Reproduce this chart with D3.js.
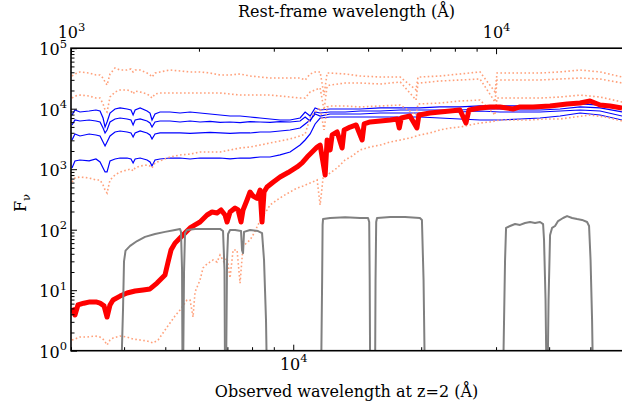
<!DOCTYPE html>
<html>
<head>
<meta charset="utf-8">
<script src="https://cdn.jsdelivr.net/npm/d3@7"></script>
<style>
  body { margin: 0; background: #fff; }
  text { font-family: "DejaVu Serif", serif; fill: #000; }
</style>
</head>
<body>
<div id="wrapper"></div>
<script>
// observed wavelength (A) grid shared by the blue model spectra
const blueWave = [3016, 3065, 3149, 3310, 3434, 3511, 3569, 3608, 3647, 3706, 3808, 3913, 4065, 4152, 4200, 4246, 4363, 4530, 4603, 4653, 4729, 4859, 5129, 5415, 5717, 6035, 6372, 6726, 7101, 7497, 7914, 8354, 8819, 9311, 9830, 10378, 10665, 10958, 11258, 11568, 12212, 13245, 14368, 16024, 17859, 19862, 22138, 24674, 27497, 30654, 34163, 38075, 42437, 47293, 52706, 59382]
const blueFlux1 = [7870, 9520, 8820, 9170, 9520, 9170, 7020, 4980, 6030, 8490, 9890, 10300, 9890, 9520, 7870, 9520, 10300, 9170, 8490, 6500, 8170, 8820, 8820, 8490, 8820, 8490, 8170, 7870, 7570, 7570, 7290, 7020, 6760, 6500, 6500, 7020, 8820, 7570, 10300, 9520, 9890, 9890, 9890, 10300, 10300, 10300, 10700, 10700, 11100, 11100, 11100, 11100, 11100, 12000, 11500, 10300]
const blueFlux2 = [5380, 6500, 6260, 6500, 6260, 6030, 4800, 3970, 4450, 6030, 6760, 7020, 6760, 6500, 5380, 6500, 6760, 6260, 5800, 4980, 6030, 6260, 6260, 6030, 6260, 6030, 6150, 5950, 6030, 5900, 6100, 6030, 5950, 6100, 6030, 6260, 7290, 6260, 8820, 8490, 8820, 8820, 9170, 9170, 9520, 9520, 9520, 9520, 9890, 9890, 9520, 9520, 9890, 10700, 10300, 8820]
const blueFlux3 = [3040, 3820, 3540, 3820, 3680, 3540, 2820, 2420, 2820, 3540, 4120, 4280, 4120, 3970, 3410, 3970, 4280, 3970, 3680, 3160, 3820, 3970, 3970, 3970, 3900, 3970, 4050, 3970, 3900, 3970, 3970, 4120, 4120, 4280, 4450, 4800, 5590, 6500, 8170, 7570, 8170, 8170, 8170, 8490, 8490, 8490, 8820, 8820, 9170, 8820, 8820, 8820, 9170, 9520, 9170, 7570]
const blueFlux4 = [1050, 1370, 1420, 1370, 1475, 1320, 1050, 900, 900, 1370, 1475, 1530, 1530, 1475, 1270, 1475, 1530, 1420, 1320, 1130, 1420, 1475, 1530, 1530, 1475, 1530, 1530, 1530, 1480, 1530, 1530, 1590, 1590, 1720, 1920, 2510, 3040, 3820, 5590, 7020, 7290, 7290, 7290, 7290, 7290, 7290, 7020, 6760, 6500, 6500, 6760, 7020, 7570, 8490, 7870, 6500]

// observed wavelength grid shared by the salmon (dotted) spectra
const salmonWave = [3016, 3065, 3149, 3310, 3434, 3511, 3569, 3608, 3647, 3706, 3808, 3913, 4065, 4152, 4200, 4246, 4363, 4530, 4603, 4653, 4729, 4859, 5129, 5415, 5717, 6035, 6372, 6726, 7101, 7497, 7914, 8354, 8819, 9311, 9830, 10378, 10665, 10958, 11258, 11568, 11815, 12015, 12212, 13245, 14368, 16024, 17859, 19447, 19659, 19862, 22138, 24674, 27497, 29838, 30163, 30654, 34163, 38075, 42437, 47293, 52706, 59382]
const salmonFlux1 = [34700, 37500, 40500, 38900, 36100, 36100, 32100, 27600, 24600, 37500, 47100, 43600, 43600, 45400, 40500, 43600, 43600, 38900, 36100, 33400, 38900, 40500, 43600, 42100, 40500, 40500, 38900, 36100, 36100, 37500, 34700, 33400, 32100, 32100, 32100, 32100, 29800, 37500, 40500, 40500, 16800, 38900, 38900, 37500, 34700, 33400, 33400, 20400, 33400, 33400, 34700, 37500, 40500, 18900, 38900, 38900, 38900, 38900, 40500, 43600, 40500, 33400]
const salmonFlux2 = [15000, 16200, 16800, 16200, 15000, 15000, 12000, 9520, 8820, 15600, 18900, 20400, 20400, 19600, 17500, 19600, 18900, 17500, 16200, 15000, 17500, 18200, 18200, 18200, 18200, 18200, 18200, 18200, 17500, 16800, 16800, 16800, 16800, 16200, 15600, 15000, 15000, 18900, 20400, 22000, 9520, 23700, 24600, 26600, 26600, 25600, 27600, 13900, 26600, 26600, 28700, 29800, 31000, 12900, 29800, 29800, 29800, 29800, 31000, 32100, 31000, 26600]
const salmonFlux3 = [614, 716, 743, 716, 663, 663, 548, 453, 404, 663, 802, 899, 970, 1008, 934, 1050, 1130, 1170, 1130, 1050, 1270, 1370, 1590, 1720, 1780, 1920, 1920, 1920, 2080, 2240, 2330, 2510, 2710, 2930, 3160, 3540, 3820, 7020, 8820, 10300, 4450, 10700, 11100, 11100, 10700, 11100, 11500, 7870, 12000, 12000, 12400, 13400, 13900, 7870, 15000, 15000, 15000, 15000, 15600, 16800, 15600, 12900]

// faintest salmon spectrum: [observed wavelength, flux]
const salmonLow = [[3016, 1.5], [3149, 1.68], [3269, 1.68], [3417, 1.75], [3511, 1.68], [3588, 1.5], [3647, 1.24], [3706, 1.5], [3767, 1.62], [3913, 1.75], [4065, 1.68], [4200, 1.56], [4363, 1.5], [4530, 1.45], [4678, 1.34], [4807, 1.5], [4938, 1.96], [5047, 2.46], [5129, 2.87], [5270, 3.75], [5415, 4.71], [5624, 6.89], [5717, 6.89], [5811, 3.61], [5874, 9.33], [6035, 14.7], [6134, 23.3], [6269, 27.1], [6476, 31.6], [6618, 29.2], [6726, 38.2], [6873, 29.2], [6987, 34.1], [7101, 15.9], [7218, 46.2], [7375, 46.2], [7497, 13.1], [7619, 53.8], [7914, 67.6], [8043, 81.7], [8263, 120], [8490, 175], [8676, 212], [8819, 256], [9158, 310], [9464, 361], [9830, 420], [10210, 489], [10547, 528], [10958, 591], [11381, 663], [11568, 256], [11752, 716], [12212, 865], [12680, 1050], [13245, 1420], [13751, 1653], [14368, 2080], [15172, 2330], [16024, 2510], [16917, 2820], [17859, 3040], [18816, 3280], [19862, 3680], [20970, 3970], [22138, 4450], [23372, 4800], [24674, 4980], [26048, 5380], [27497, 5800], [29028, 6030], [30654, 6500], [33257, 6500], [36073, 6500], [39127, 6760], [42437, 6760], [46037, 7290], [49928, 7870], [54167, 7290], [59382, 6260]]

// best-fit spectrum (thick red): [observed wavelength, flux]
const bestFit = [[3016, 5.1], [3065, 3.9], [3115, 5.7], [3216, 6.1], [3323, 6.4], [3434, 6.4], [3511, 6.1], [3588, 5.5], [3647, 3.6], [3706, 5.7], [3767, 6.9], [3913, 8.0], [4065, 9.0], [4246, 9.7], [4434, 10.1], [4603, 10.5], [4780, 13.1], [4859, 14.7], [4992, 17.8], [5074, 29], [5157, 46], [5270, 60], [5415, 73], [5594, 92], [5717, 107], [5874, 120], [6035, 134], [6269, 175], [6441, 196], [6618, 189], [6763, 212], [6911, 175], [6987, 134], [7101, 196], [7297, 228], [7417, 212], [7536, 134], [7619, 212], [7786, 310], [7914, 420], [8043, 360], [8219, 330], [8354, 453], [8445, 134], [8536, 420], [8676, 508], [8963, 610], [9311, 743], [9725, 880], [10210, 1090], [10491, 1270], [10781, 1590], [11077, 1920], [11381, 2330], [11568, 2510], [11886, 800], [12015, 3040], [12212, 2080], [12346, 3680], [12684, 4120], [13032, 2240], [13174, 4450], [13611, 4980], [14060, 5380], [14525, 3040], [14683, 5590], [15172, 6030], [16024, 6260], [16917, 6500], [17571, 6750], [17762, 4800], [17956, 7020], [18816, 7570], [19543, 4800], [19755, 7870], [20970, 8490], [22138, 8820], [23372, 9170], [24674, 9520], [25489, 5800], [25907, 9520], [27497, 10300], [29028, 10700], [30654, 10700], [32891, 9890], [34163, 10700], [36664, 10700], [40200, 11100], [44077, 12000], [47293, 12400], [49928, 13400], [52706, 11500], [55642, 11100], [59382, 10300]]

// filter transmission curves, scaled: [observed wavelength, value]
const filt1 = [[3933, 0.3], [3977, 5], [3998, 30], [4031, 45], [4132, 54], [4292, 65], [4480, 76], [4729, 85], [4992, 92], [5270, 99], [5415, 103], [5444, 92], [5475, 21.6], [5490, 0.3]]
const filt2 = [[5504, 0.3], [5534, 20], [5564, 88], [5624, 99], [5874, 103], [6372, 103], [6726, 103], [6836, 95], [6891, 21.6], [6911, 0.3]]
const filt3 = [[6947, 0.3], [6987, 31.6], [7025, 85], [7101, 99], [7297, 99], [7536, 95], [7577, 46], [7619, 41], [7660, 92], [7914, 99], [8263, 95], [8445, 88], [8536, 31.6], [8628, 3.2], [8676, 0.3]]
const filt4 = [[11624, 0.3], [11694, 14.7], [11724, 120], [11752, 150], [12212, 156], [13245, 160], [14368, 156], [14996, 156], [15090, 134], [15131, 14.7], [15172, 0.3]]
const filt5 = [[15575, 0.3], [15617, 14.7], [15673, 134], [15744, 156], [16917, 162], [18326, 162], [19862, 156], [20079, 145], [20257, 14.7], [20408, 0.3]]
const filt6 = [[31156, 0.3], [31500, 31.6], [31671, 107], [32365, 115], [33257, 124], [34163, 120], [35100, 129], [36073, 134], [37055, 129], [38075, 134], [38706, 124], [38906, 67.6], [39226, 6.9], [39445, 0.3]]
const filt7 = [[39654, 0.3], [39870, 6.9], [40200, 81.7], [40635, 107], [41300, 115], [41979, 139], [43130, 156], [44077, 168], [45296, 156], [46530, 150], [47803, 145], [49122, 134], [49654, 115], [50059, 31.6], [50471, 3.2], [50745, 0.3]]

// tick values
const yMajorTicks = [1, 10, 100, 1000, 10000, 100000]
const yMinorTicks = [2, 3, 4, 5, 6, 7, 8, 9].flatMap(m => [1, 10, 100, 1000, 10000].map(p => m * p))
const obsMajorTicks = [10000]
const obsMinorTicks = [3000, 4000, 5000, 6000, 7000, 8000, 9000, 20000, 30000, 40000, 50000, 60000]
const restMajorTicks = [1000, 10000]
const restMinorTicks = [2000, 3000, 4000, 5000, 6000, 7000, 8000, 9000, 20000]

function drawChart() {
  let dimensions = {
    width: 622,
    height: 408,
    margin: { top: 48.2, left: 71 },
  }
  dimensions.boundedWidth = 553
  dimensions.boundedHeight = 302.5

  const wrapper = d3.select("#wrapper")
    .append("svg")
      .attr("width", dimensions.width)
      .attr("height", dimensions.height)

  const bounds = wrapper.append("g")
      .attr("transform", `translate(${dimensions.margin.left}, ${dimensions.margin.top})`)

  bounds.append("defs").append("clipPath")
      .attr("id", "plot-clip")
    .append("rect")
      .attr("width", dimensions.boundedWidth)
      .attr("height", dimensions.boundedHeight)

  // scales
  const xScale = d3.scaleLog()
    .domain([3000, 60000])
    .range([0, dimensions.boundedWidth])

  const restScale = d3.scaleLog()
    .domain([1000, 20000])
    .range([0, dimensions.boundedWidth])

  const yScale = d3.scaleLog()
    .domain([1, 1e5])
    .range([dimensions.boundedHeight, 0])

  const lineGenerator = d3.line()
    .x(d => xScale(d[0]))
    .y(d => yScale(d[1]))

  const plot = bounds.append("g")
      .attr("clip-path", "url(#plot-clip)")

  // blue spectra
  ;[blueFlux1, blueFlux2, blueFlux3, blueFlux4].forEach(flux => {
    plot.append("path")
        .attr("d", lineGenerator(d3.zip(blueWave, flux)))
        .attr("fill", "none")
        .attr("stroke", "#0000ff")
        .attr("stroke-width", 1.2)
  })

  // salmon dotted spectra
  const salmonSeries = [
    d3.zip(salmonWave, salmonFlux1),
    d3.zip(salmonWave, salmonFlux2),
    d3.zip(salmonWave, salmonFlux3),
    salmonLow,
  ]
  salmonSeries.forEach(pts => {
    plot.append("path")
        .attr("d", lineGenerator(pts))
        .attr("fill", "none")
        .attr("stroke", "#ffa07a")
        .attr("stroke-width", 1.6)
        .attr("stroke-dasharray", "1.6,2.4")
  })

  // best fit
  plot.append("path")
      .attr("d", lineGenerator(bestFit))
      .attr("fill", "none")
      .attr("stroke", "#ff0000")
      .attr("stroke-width", 5)
      .attr("stroke-linejoin", "round")

  // filter curves
  ;[filt1, filt2, filt3, filt4, filt5, filt6, filt7].forEach(pts => {
    plot.append("path")
        .attr("d", lineGenerator(pts))
        .attr("fill", "none")
        .attr("stroke", "#808080")
        .attr("stroke-width", 2)
        .attr("stroke-linejoin", "round")
  })

  // axes
  const powerLabel = sel => sel.selectAll(".tick text").each(function(d) {
    const t = d3.select(this).text("")
    t.append("tspan").text("10")
    t.append("tspan")
        .attr("dy", -7.5)
        .attr("font-size", 11.5)
        .text(Math.round(Math.log10(d)))
  })

  const styleAxis = sel => {
    sel.select(".domain").remove()
    sel.selectAll(".tick line").attr("stroke", "#000").attr("stroke-width", 1)
    sel.selectAll(".tick text").attr("font-size", 16).attr("font-family", "DejaVu Serif")
  }

  // y
  bounds.append("g")
    .call(d3.axisLeft(yScale).tickValues(yMinorTicks).tickSize(-3.5).tickFormat(""))
    .call(styleAxis)
  const yAxis = bounds.append("g")
    .call(d3.axisLeft(yScale).tickValues(yMajorTicks).tickSize(-6).tickPadding(4))
    .call(styleAxis)
  yAxis.selectAll(".tick text").attr("dy", "0.42em")
  yAxis.call(powerLabel)

  // bottom
  const xAxisG = bounds.append("g")
      .attr("transform", `translate(0, ${dimensions.boundedHeight})`)
  xAxisG.append("g")
    .call(d3.axisBottom(xScale).tickValues(obsMinorTicks).tickSize(-3.5).tickFormat(""))
    .call(styleAxis)
  const xAxis = xAxisG.append("g")
    .call(d3.axisBottom(xScale).tickValues(obsMajorTicks).tickSize(-6))
    .call(styleAxis)
  xAxis.selectAll(".tick text").attr("y", 19).attr("dy", 0)
  xAxis.call(powerLabel)

  // top
  bounds.append("g")
    .call(d3.axisTop(restScale).tickValues(restMinorTicks).tickSize(-3.5).tickFormat(""))
    .call(styleAxis)
  const topAxis = bounds.append("g")
    .call(d3.axisTop(restScale).tickValues(restMajorTicks).tickSize(-6))
    .call(styleAxis)
  topAxis.selectAll(".tick text").attr("y", -10).attr("dy", 0)
  topAxis.call(powerLabel)

  // frame
  bounds.append("rect")
      .attr("width", dimensions.boundedWidth)
      .attr("height", dimensions.boundedHeight)
      .attr("fill", "none")
      .attr("stroke", "#000")
      .attr("stroke-width", 1.6)

  // axis titles
  wrapper.append("text")
      .attr("x", 346.5)
      .attr("y", 17)
      .attr("text-anchor", "middle")
      .attr("font-size", 16)
      .text("Rest-frame wavelength (Å)")

  wrapper.append("text")
      .attr("x", 346.5)
      .attr("y", 397)
      .attr("text-anchor", "middle")
      .attr("font-size", 16)
      .text("Observed wavelength at z=2 (Å)")

  const yLabel = wrapper.append("text")
      .attr("transform", "translate(26, 203) rotate(-90)")
      .attr("text-anchor", "middle")
      .attr("font-size", 16)
  yLabel.append("tspan").text("F")
  yLabel.append("tspan").attr("dy", 4).attr("font-size", 11.5).text("ν")
}
drawChart()
</script>
</body>
</html>
